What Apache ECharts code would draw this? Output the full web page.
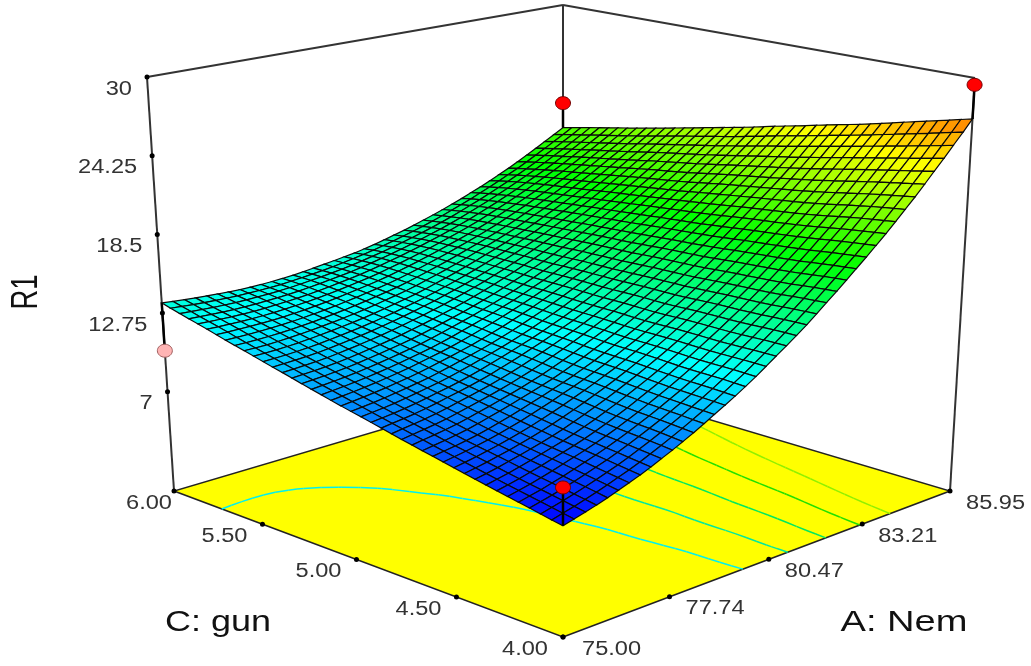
<!DOCTYPE html>
<html><head><meta charset="utf-8">
<style>html,body{margin:0;padding:0;background:#fff}#c{width:1031px;height:666px}</style>
<script src="https://cdn.jsdelivr.net/npm/echarts@6/dist/echarts.min.js"></script>
</head><body><div id="c"></div>
<script>
const aGrid=[75,75.27,75.55,75.82,76.1,76.37,76.64,76.92,77.19,77.46,77.74,78.01,78.29,78.56,78.83,79.11,79.38,79.65,79.93,80.2,80.47,80.75,81.02,81.3,81.57,81.84,82.12,82.39,82.66,82.94,83.21,83.49,83.76,84.03,84.31,84.58,84.85,85.13,85.4,85.68,85.95];
const cGrid=[4,4.05,4.1,4.15,4.2,4.25,4.3,4.35,4.4,4.45,4.5,4.55,4.6,4.65,4.7,4.75,4.8,4.85,4.9,4.95,5,5.05,5.1,5.15,5.2,5.25,5.3,5.35,5.4,5.45,5.5,5.55,5.6,5.65,5.7,5.75,5.8,5.85,5.9,5.95,6];
const zRead=[
[7.0,7.2,7.4,7.6,7.8,8.1,8.4,8.6,8.9,9.3,9.6,9.9,10.3,10.7,11.1,11.5,11.9,12.3,12.8,13.3,13.8,14.3,14.8,15.3,15.9,16.5,17.1,17.7,18.3,18.9,19.6,20.2,20.9,21.6,22.3,23.1,23.8,24.6,25.4,26.2,27.0],
[7.1,7.3,7.5,7.7,8.0,8.2,8.5,8.7,9.0,9.3,9.7,10.0,10.4,10.7,11.1,11.5,11.9,12.4,12.8,13.3,13.8,14.3,14.8,15.3,15.9,16.4,17.0,17.6,18.2,18.8,19.5,20.1,20.8,21.5,22.2,22.9,23.7,24.4,25.2,26.0,26.8],
[7.3,7.5,7.6,7.9,8.1,8.3,8.6,8.8,9.1,9.4,9.8,10.1,10.4,10.8,11.2,11.6,12.0,12.4,12.9,13.3,13.8,14.3,14.8,15.3,15.8,16.4,17.0,17.6,18.2,18.8,19.4,20.0,20.7,21.4,22.1,22.8,23.5,24.3,25.0,25.8,26.6],
[7.4,7.6,7.8,8.0,8.2,8.4,8.7,8.9,9.2,9.5,9.8,10.2,10.5,10.9,11.2,11.6,12.0,12.5,12.9,13.3,13.8,14.3,14.8,15.3,15.8,16.4,16.9,17.5,18.1,18.7,19.3,20.0,20.6,21.3,22.0,22.7,23.4,24.1,24.8,25.6,26.4],
[7.6,7.7,7.9,8.1,8.3,8.6,8.8,9.0,9.3,9.6,9.9,10.2,10.5,10.9,11.2,11.6,12.0,12.4,12.8,13.3,13.7,14.2,14.7,15.2,15.7,16.2,16.8,17.4,17.9,18.6,19.2,19.9,20.5,21.2,21.8,22.5,23.2,24.0,24.7,25.4,26.2],
[7.7,7.8,8.0,8.2,8.4,8.7,8.9,9.1,9.4,9.6,9.9,10.2,10.6,10.9,11.3,11.7,12.0,12.4,12.9,13.3,13.8,14.2,14.7,15.2,15.7,16.2,16.7,17.3,17.9,18.5,19.1,19.7,20.4,21.0,21.7,22.4,23.1,23.8,24.5,25.2,26.0],
[7.8,8.0,8.1,8.3,8.6,8.8,9.0,9.2,9.4,9.7,10.0,10.3,10.6,11.0,11.3,11.7,12.1,12.5,12.9,13.3,13.8,14.2,14.7,15.2,15.7,16.2,16.7,17.2,17.8,18.4,19.0,19.6,20.2,20.8,21.6,22.3,22.9,23.6,24.3,25.0,25.8],
[8.0,8.1,8.3,8.5,8.7,8.9,9.0,9.3,9.5,9.8,10.1,10.4,10.7,11.1,11.4,11.8,12.1,12.5,12.9,13.4,13.8,14.2,14.7,15.2,15.6,16.2,16.7,17.2,17.8,18.3,18.9,19.5,20.1,20.7,21.4,22.1,22.8,23.5,24.2,24.9,25.6],
[8.1,8.2,8.4,8.6,8.8,8.9,9.2,9.4,9.6,9.9,10.2,10.5,10.8,11.1,11.5,11.8,12.2,12.6,13.0,13.4,13.8,14.3,14.7,15.2,15.6,16.1,16.6,17.2,17.7,18.3,18.8,19.4,20.0,20.6,21.2,21.9,22.7,23.3,24.0,24.7,25.4],
[8.3,8.4,8.6,8.7,8.9,9.1,9.3,9.5,9.8,10.0,10.3,10.6,10.9,11.2,11.5,11.9,12.3,12.6,13.0,13.4,13.8,14.3,14.7,15.2,15.6,16.1,16.6,17.1,17.7,18.2,18.8,19.3,19.9,20.5,21.1,21.8,22.5,23.2,23.8,24.5,25.2],
[8.4,8.5,8.7,8.9,9.0,9.2,9.4,9.6,9.9,10.1,10.4,10.7,11.0,11.3,11.6,12.0,12.3,12.7,13.1,13.4,13.8,14.3,14.7,15.1,15.6,16.1,16.6,17.1,17.6,18.1,18.7,19.2,19.8,20.4,21.0,21.6,22.3,23.0,23.7,24.3,25.0],
[8.6,8.7,8.8,9.0,9.1,9.3,9.5,9.7,10.0,10.2,10.5,10.8,11.1,11.4,11.6,11.9,12.3,12.6,13.0,13.4,13.8,14.2,14.6,15.0,15.5,16.0,16.4,17.1,17.6,18.1,18.6,19.2,19.7,20.3,20.9,21.5,22.1,22.9,23.5,24.2,24.8],
[8.7,8.8,9.0,9.0,9.2,9.4,9.6,9.9,10.1,10.3,10.6,10.9,11.0,11.3,11.6,12.0,12.3,12.7,13.0,13.4,13.8,14.2,14.6,15.1,15.5,16.0,16.4,16.9,17.4,18.0,18.6,19.1,19.7,20.2,20.8,21.4,22.0,22.6,23.4,24.0,24.7],
[8.9,9.0,9.1,9.2,9.4,9.6,9.8,10.0,10.2,10.4,10.7,10.9,11.1,11.4,11.7,12.1,12.4,12.7,13.1,13.4,13.8,14.2,14.6,15.1,15.5,15.9,16.4,16.9,17.4,17.9,18.5,19.0,19.6,20.1,20.7,21.3,21.8,22.5,23.2,23.8,24.5],
[9.0,9.2,9.3,9.3,9.5,9.7,9.9,10.1,10.3,10.5,10.7,11.0,11.2,11.5,11.8,12.1,12.4,12.8,13.1,13.5,13.9,14.3,14.7,15.1,15.5,15.9,16.4,16.9,17.3,17.8,18.3,19.0,19.5,20.0,20.6,21.2,21.7,22.3,23.0,23.7,24.3],
[9.2,9.3,9.4,9.5,9.7,9.8,10.0,10.2,10.4,10.6,10.8,11.1,11.3,11.6,11.9,12.2,12.5,12.8,13.2,13.5,13.9,14.3,14.7,15.1,15.5,15.9,16.4,16.8,17.3,17.8,18.3,18.8,19.4,19.9,20.5,21.0,21.6,22.2,22.9,23.5,24.1],
[9.3,9.5,9.6,9.6,9.8,10.0,10.2,10.4,10.5,10.7,10.9,11.2,11.4,11.7,12.0,12.3,12.6,12.9,13.2,13.6,13.9,14.3,14.7,15.1,15.5,15.9,16.4,16.8,17.3,17.7,18.2,18.7,19.2,19.9,20.4,20.9,21.5,22.1,22.7,23.3,23.9],
[9.5,9.6,9.7,9.8,9.9,10.1,10.3,10.5,10.6,10.8,11.0,11.3,11.5,11.8,12.1,12.3,12.7,12.9,13.2,13.5,13.9,14.2,14.6,15.0,15.5,15.9,16.3,16.8,17.2,17.7,18.1,18.6,19.1,19.8,20.3,20.8,21.3,21.9,22.6,23.2,23.8],
[9.7,9.8,9.8,9.9,10.1,10.2,10.4,10.5,10.7,10.9,11.1,11.4,11.6,11.9,12.1,12.3,12.6,12.9,13.2,13.6,13.9,14.3,14.7,15.0,15.4,15.8,16.3,16.8,17.2,17.6,18.1,18.6,19.1,19.6,20.2,20.7,21.2,21.8,22.3,23.0,23.6],
[9.8,9.9,9.9,10.1,10.2,10.4,10.5,10.6,10.8,11.0,11.2,11.5,11.7,11.9,12.1,12.4,12.7,13.0,13.3,13.6,14.0,14.3,14.7,15.1,15.4,15.8,16.2,16.6,17.2,17.6,18.0,18.5,19.0,19.5,20.1,20.6,21.1,21.7,22.2,22.8,23.4],
[10.0,10.1,10.1,10.2,10.4,10.5,10.6,10.8,10.9,11.1,11.4,11.6,11.7,11.9,12.2,12.5,12.8,13.1,13.3,13.7,14.0,14.3,14.7,15.1,15.4,15.8,16.2,16.6,17.0,17.6,18.0,18.4,18.9,19.4,19.8,20.5,21.0,21.5,22.0,22.7,23.2],
[10.1,10.3,10.3,10.4,10.5,10.7,10.7,10.9,11.1,11.3,11.5,11.6,11.8,12.1,12.3,12.6,12.8,13.1,13.4,13.7,14.0,14.4,14.7,15.1,15.4,15.8,16.2,16.6,17.0,17.4,17.9,18.4,18.8,19.3,19.7,20.3,20.8,21.3,21.9,22.5,23.0],
[10.3,10.4,10.4,10.5,10.7,10.8,10.9,11.0,11.2,11.4,11.5,11.7,11.9,12.2,12.4,12.6,12.9,13.2,13.5,13.8,14.1,14.4,14.7,15.1,15.4,15.8,16.2,16.6,17.0,17.4,17.8,18.3,18.8,19.2,19.6,20.2,20.7,21.2,21.7,22.3,22.9],
[10.5,10.6,10.6,10.7,10.8,10.9,11.0,11.2,11.3,11.5,11.6,11.8,12.1,12.3,12.5,12.7,13.0,13.3,13.4,13.7,14.0,14.3,14.7,15.1,15.4,15.8,16.2,16.5,16.9,17.3,17.7,18.3,18.7,19.1,19.6,20.0,20.6,21.1,21.6,22.2,22.7],
[10.6,10.7,10.7,10.8,11.0,11.0,11.1,11.3,11.5,11.5,11.7,11.9,12.1,12.3,12.6,12.8,13.0,13.2,13.5,13.8,14.1,14.4,14.7,15.0,15.3,15.8,16.2,16.5,16.9,17.3,17.7,18.1,18.6,19.0,19.5,19.9,20.5,21.0,21.4,22.0,22.5],
[10.8,10.9,10.9,11.0,11.1,11.1,11.3,11.5,11.5,11.7,11.8,12.0,12.2,12.4,12.6,12.8,13.0,13.3,13.6,13.8,14.1,14.4,14.7,15.0,15.3,15.7,16.1,16.5,16.9,17.2,17.6,18.0,18.4,18.9,19.4,19.8,20.4,20.8,21.3,21.9,22.4],
[11.0,11.1,11.0,11.1,11.3,11.3,11.4,11.6,11.7,11.8,12.0,12.2,12.4,12.5,12.7,12.9,13.1,13.4,13.6,13.9,14.2,14.5,14.8,15.0,15.4,15.7,16.0,16.4,16.8,17.2,17.6,18.0,18.4,18.9,19.3,19.7,20.3,20.7,21.2,21.7,22.2],
[11.2,11.2,11.2,11.3,11.3,11.4,11.6,11.7,11.8,11.9,12.1,12.3,12.4,12.6,12.8,13.0,13.2,13.5,13.7,13.9,14.2,14.5,14.8,15.1,15.4,15.7,16.0,16.4,16.7,17.2,17.5,17.9,18.3,18.8,19.2,19.6,20.1,20.6,21.0,21.6,22.0],
[11.3,11.4,11.4,11.5,11.5,11.6,11.7,11.8,11.9,12.1,12.2,12.3,12.5,12.7,12.9,13.1,13.3,13.5,13.7,13.9,14.2,14.4,14.7,15.1,15.4,15.7,16.0,16.4,16.7,17.0,17.5,17.8,18.2,18.6,19.1,19.5,19.9,20.5,20.9,21.4,21.9],
[11.5,11.6,11.5,11.6,11.6,11.7,11.9,11.9,12.0,12.2,12.2,12.4,12.6,12.8,12.9,13.0,13.3,13.5,13.7,14.0,14.2,14.5,14.8,15.0,15.3,15.6,16.0,16.3,16.7,17.0,17.3,17.8,18.2,18.5,19.0,19.4,19.8,20.3,20.7,21.3,21.7],
[11.7,11.6,11.7,11.8,11.8,11.9,11.9,12.1,12.2,12.2,12.4,12.5,12.7,12.8,13.0,13.1,13.3,13.6,13.8,14.0,14.3,14.5,14.8,15.1,15.3,15.6,15.9,16.2,16.7,17.0,17.3,17.6,18.1,18.4,18.8,19.3,19.7,20.2,20.6,21.0,21.5],
[11.9,11.8,11.9,11.9,11.9,12.1,12.1,12.2,12.2,12.4,12.5,12.6,12.7,12.9,13.1,13.2,13.4,13.7,13.9,14.1,14.2,14.6,14.9,15.1,15.4,15.6,15.9,16.2,16.5,16.9,17.2,17.6,17.9,18.4,18.7,19.2,19.6,20.0,20.4,20.9,21.4],
[12.0,12.0,12.0,12.0,12.1,12.1,12.2,12.3,12.4,12.5,12.6,12.7,12.8,13.0,13.2,13.2,13.4,13.6,13.9,14.1,14.3,14.5,14.8,15.0,15.3,15.5,15.9,16.2,16.5,16.8,17.2,17.5,17.9,18.3,18.6,19.0,19.5,19.9,20.3,20.7,21.2],
[12.2,12.2,12.2,12.2,12.3,12.3,12.3,12.4,12.5,12.6,12.6,12.8,13.0,13.0,13.2,13.3,13.5,13.7,13.9,14.1,14.3,14.6,14.8,15.1,15.3,15.5,15.8,16.1,16.5,16.8,17.1,17.5,17.8,18.1,18.5,18.9,19.4,19.7,20.2,20.6,21.1],
[12.4,12.4,12.4,12.4,12.4,12.4,12.4,12.5,12.6,12.6,12.8,12.9,13.0,13.1,13.3,13.4,13.5,13.7,13.9,14.1,14.3,14.5,14.8,15.0,15.2,15.5,15.8,16.1,16.4,16.7,17.0,17.3,17.8,18.1,18.4,18.8,19.3,19.6,20.1,20.4,20.9],
[12.6,12.5,12.6,12.5,12.5,12.6,12.6,12.7,12.7,12.8,12.8,12.9,13.1,13.1,13.3,13.4,13.6,13.8,14.0,14.2,14.3,14.6,14.8,15.0,15.2,15.5,15.7,16.0,16.4,16.6,16.9,17.3,17.6,18.0,18.3,18.7,19.1,19.5,19.9,20.3,20.8],
[12.8,12.7,12.7,12.7,12.7,12.6,12.7,12.7,12.8,12.8,12.9,13.0,13.1,13.3,13.4,13.4,13.6,13.8,14.0,14.1,14.3,14.5,14.8,15.0,15.2,15.4,15.7,16.0,16.3,16.5,16.9,17.2,17.6,17.8,18.2,18.5,19.0,19.4,19.7,20.2,20.6],
[12.9,12.9,12.8,12.8,12.8,12.8,12.8,12.9,12.9,13.0,13.0,13.1,13.1,13.3,13.4,13.5,13.6,13.8,13.9,14.1,14.3,14.5,14.7,14.9,15.1,15.4,15.6,15.9,16.1,16.5,16.7,17.1,17.4,17.8,18.0,18.4,18.9,19.2,19.6,20.0,20.5],
[13.1,13.1,13.0,12.9,12.9,13.0,12.9,12.9,13.0,13.0,13.0,13.1,13.3,13.3,13.4,13.5,13.6,13.8,13.9,14.1,14.2,14.4,14.6,14.8,15.0,15.3,15.5,15.8,16.1,16.4,16.6,17.0,17.3,17.6,18.0,18.3,18.7,19.1,19.5,19.9,20.3],
[13.3,13.3,13.2,13.1,13.1,13.0,13.0,13.1,13.1,13.0,13.1,13.2,13.3,13.3,13.4,13.4,13.6,13.8,13.9,14.1,14.2,14.4,14.6,14.8,15.0,15.1,15.4,15.7,16.0,16.2,16.6,16.8,17.2,17.5,17.8,18.2,18.6,19.0,19.3,19.7,20.2],
[13.5,13.4,13.3,13.3,13.2,13.2,13.1,13.1,13.1,13.1,13.1,13.2,13.2,13.3,13.4,13.5,13.6,13.7,13.8,13.9,14.1,14.3,14.5,14.6,14.9,15.1,15.3,15.6,15.8,16.1,16.4,16.7,17.0,17.3,17.7,18.0,18.4,18.8,19.2,19.6,20.0]
];
const zTicks=[7,12.75,18.5,24.25,30];
const aTicks=[75,77.74,80.47,83.21,85.95];
const cTicks=[4,4.5,5,5.5,6];
const aTickLabels=['75.00','77.74','80.47','83.21','85.95'];
const cTickLabels=['4.00','4.50','5.00','5.50','6.00'];
const zTickLabels=['7','12.75','18.5','24.25','30'];
const contourLevels=[12.5,14.8,17.1,19.4,21.7];
const contourColors=['#00f0f0','#00e8a0','#00e860','#20e000','#90f000'];
const designA=[75,85.95,85.95,75];
const designC=[4,6,4,6];
const designZ=[9.5,22,29.5,10];
const designFill=['#ff0000','#ff0000','#ff0000','#ffb4b4'];
const colorStopZ=[7,12.7,18.4,24,29.7];
const colorStops=['#0000ff','#00ffff','#00ff00','#ffff00','#ff0000'];

// The table is read to one decimal; a light binomial pass removes that rounding step from the mesh.
function smoothPass(t){
  const n=t.length,m=t[0].length;
  const get=(j,i)=>{
    if(j<0)return 2*get(0,i)-get(-j,i);
    if(j>=n)return 2*get(n-1,i)-get(2*n-2-j,i);
    if(i<0)return 2*t[j][0]-t[j][-i];
    if(i>=m)return 2*t[j][m-1]-t[j][2*m-2-i];
    return t[j][i];
  };
  return t.map((r,j)=>r.map((v,i)=>{
    let s=0;
    [-1,0,1].forEach(dj=>[-1,0,1].forEach(di=>{s+=(dj?1:2)*(di?1:2)*get(j+dj,i+di);}));
    return s/16;
  }));
}
let zRows=zRead;
for(let k=0;k<3;k++)zRows=smoothPass(zRows);

const zFloor=-0.25,zTop=30,aMin=75,aMax=85.95,cMin=4,cMax=6;
const floorQuad=[[563,637],[950,491],[563,376],[174,491]];
const topQuad=[[563,173],[975,78],[563,5],[147,77]];
function homography(q){
  const [p0,p1,p2,p3]=q;
  const dx1=p1[0]-p2[0],dx2=p3[0]-p2[0],sx=p0[0]-p1[0]+p2[0]-p3[0];
  const dy1=p1[1]-p2[1],dy2=p3[1]-p2[1],sy=p0[1]-p1[1]+p2[1]-p3[1];
  const d=dx1*dy2-dx2*dy1,g=(sx*dy2-dx2*sy)/d,h=(dx1*sy-sx*dy1)/d;
  const a=p1[0]-p0[0]+g*p1[0],b=p3[0]-p0[0]+h*p3[0],e=p1[1]-p0[1]+g*p1[1],f=p3[1]-p0[1]+h*p3[1];
  return (u,v)=>{const w=g*u+h*v+1;return [(a*u+b*v+p0[0])/w,(e*u+f*v+p0[1])/w];};
}
const floorH=homography(floorQuad),topH=homography(topQuad);
function project(a,c,z){
  const u=(a-aMin)/(aMax-aMin),v=(c-cMin)/(cMax-cMin),t=(z-zFloor)/(zTop-zFloor);
  const p=floorH(u,v),q=topH(u,v);
  return [p[0]+(q[0]-p[0])*t,p[1]+(q[1]-p[1])*t];
}
function colorOf(z){
  const n=colorStopZ.length;
  const t=Math.max(0,Math.min(1,(z-colorStopZ[0])/(colorStopZ[n-1]-colorStopZ[0])));
  return echarts.color.lerp(t,colorStops);
}
const cells=[];
for(let j=cGrid.length-2;j>=0;j--)for(let i=aGrid.length-2;i>=0;i--)cells.push([i,j]);
const segs=[];
contourLevels.forEach((lv,k)=>{
  for(let j=0;j<cGrid.length-1;j++)for(let i=0;i<aGrid.length-1;i++){
    const cr=[[i,j,i+1,j],[i+1,j,i+1,j+1],[i+1,j+1,i,j+1],[i,j+1,i,j]],pts=[];
    cr.forEach(e=>{
      const z1=zRows[e[1]][e[0]],z2=zRows[e[3]][e[2]];
      if((z1<lv)!==(z2<lv)){const t=(lv-z1)/(z2-z1);
        pts.push([aGrid[e[0]]+(aGrid[e[2]]-aGrid[e[0]])*t,cGrid[e[1]]+(cGrid[e[3]]-cGrid[e[1]])*t]);}
    });
    if(pts.length>=2)segs.push([pts[0][0],pts[0][1],pts[1][0],pts[1][1],k]);
  }
});
const frame=[[aMin,cMax,zFloor,aMin,cMax,zTop],[aMax,cMin,zFloor,aMax,cMin,zTop],[aMax,cMax,zFloor,aMax,cMax,zTop],[aMin,cMax,zTop,aMax,cMax,zTop],[aMax,cMin,zTop,aMax,cMax,zTop]];
const labels=[];
zTicks.forEach((z,i)=>labels.push({a:aMin,c:cMax,z:z,t:zTickLabels[i],dx:-15,dy:12,al:'right'}));
aTicks.forEach((v,i)=>labels.push({a:v,c:cMin,z:zFloor,t:aTickLabels[i],dx:i==0?19:16,dy:12,al:'left'}));
cTicks.forEach((v,i)=>labels.push({a:aMin,c:v,z:zFloor,t:cTickLabels[i],dx:i==4?-2:-15,dy:12,al:'right'}));
const font='"Liberation Sans",Arial,sans-serif';
const base={type:'custom',coordinateSystem:'cartesian2d',silent:true,clip:false,animation:false,progressive:0};
const chart=echarts.init(document.getElementById('c'),null,{renderer:'canvas'});
chart.setOption({
  animation:false,backgroundColor:'#fff',
  grid:{left:0,right:0,top:0,bottom:0},
  xAxis:{type:'value',min:0,max:1031,show:false},
  yAxis:{type:'value',min:0,max:666,inverse:true,show:false},
  series:[
    Object.assign({},base,{data:[[0]],renderItem(p,api){
      const pts=[[aMin,cMin],[aMax,cMin],[aMax,cMax],[aMin,cMax]].map(q=>api.coord(project(q[0],q[1],zFloor)));
      return {type:'polygon',shape:{points:pts},style:{fill:'#ffff00',stroke:'#222',lineWidth:1.5}};
    }}),
    Object.assign({},base,{data:frame,renderItem(p,api){
      const a=api.coord(project(api.value(0),api.value(1),api.value(2))),b=api.coord(project(api.value(3),api.value(4),api.value(5)));
      return {type:'line',shape:{x1:a[0],y1:a[1],x2:b[0],y2:b[1]},style:{stroke:'#333',lineWidth:2}};
    }}),
    Object.assign({},base,{data:segs,renderItem(p,api){
      const a=api.coord(project(api.value(0),api.value(1),zFloor)),b=api.coord(project(api.value(2),api.value(3),zFloor));
      return {type:'line',shape:{x1:a[0],y1:a[1],x2:b[0],y2:b[1]},style:{stroke:contourColors[api.value(4)],lineWidth:1.5}};
    }}),
    Object.assign({},base,{data:cells,renderItem(p,api){
      const i=api.value(0),j=api.value(1),idx=[[i,j],[i+1,j],[i+1,j+1],[i,j+1]];
      const pts=idx.map(q=>api.coord(project(aGrid[q[0]],cGrid[q[1]],zRows[q[1]][q[0]])));
      const zm=(zRows[j][i]+zRows[j][i+1]+zRows[j+1][i]+zRows[j+1][i+1])/4;
      return {type:'polygon',shape:{points:pts},style:{fill:colorOf(zm),stroke:'#0a0a0a',lineWidth:1.2}};
    }}),
    Object.assign({},base,{data:designA.map((v,i)=>[v,designC[i],designZ[i],i]),renderItem(p,api){
      const a=api.value(0),c=api.value(1),z=api.value(2),k=api.value(3);
      const i=aGrid.indexOf(a),j=cGrid.indexOf(c);
      const s=api.coord(project(a,c,z)),t=api.coord(project(a,c,zRows[j][i]));
      return {type:'group',children:[
        {type:'line',shape:{x1:s[0],y1:s[1],x2:t[0],y2:t[1]},style:{stroke:'#000',lineWidth:2.5}},
        {type:'ellipse',shape:{cx:s[0],cy:s[1],rx:7.5,ry:6.5},style:{fill:designFill[k],stroke:k==3?'#a06060':'#700000',lineWidth:1}}
      ]};
    }}),
    Object.assign({},base,{data:labels.map((l,i)=>[i]),renderItem(p,api){
      const l=labels[api.value(0)],s=api.coord(project(l.a,l.c,l.z));
      const kids=[{type:'circle',shape:{cx:s[0],cy:s[1],r:2.5},style:{fill:'#000'}},
        {type:'text',x:s[0]+l.dx,y:s[1]+l.dy,scaleX:1.18,style:{text:l.t,font:'20px '+font,fill:'#333',align:l.al,verticalAlign:'middle'}}];
      return {type:'group',children:kids};
    }})
  ],
  graphic:{elements:[
    {type:'text',x:27,y:292,rotation:Math.PI/2,scaleX:.76,silent:true,style:{text:'R1',font:'36px '+font,fill:'#111',align:'center',verticalAlign:'middle'}},
    {type:'text',x:218,y:623,scaleX:1.2,silent:true,style:{text:'C: gun',font:'30px '+font,fill:'#111',align:'center',verticalAlign:'middle'}},
    {type:'text',x:904,y:623,scaleX:1.27,silent:true,style:{text:'A: Nem',font:'30px '+font,fill:'#111',align:'center',verticalAlign:'middle'}}
  ]}
});
</script></body></html>
